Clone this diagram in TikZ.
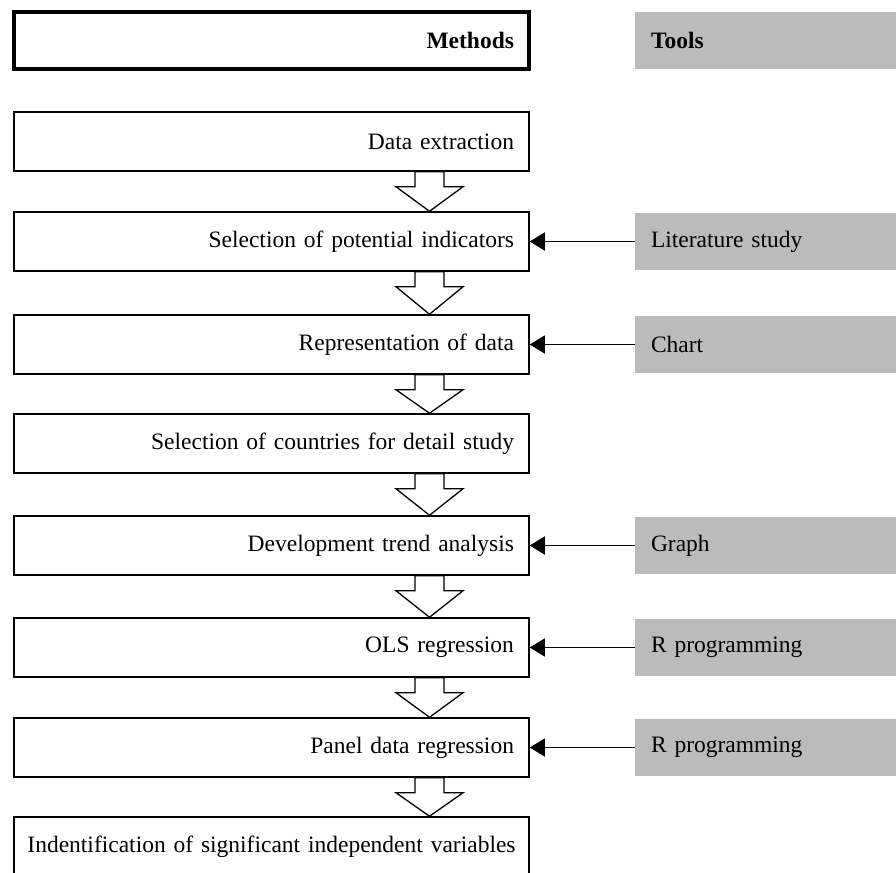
\documentclass[tikz,border=0pt]{standalone}
\usepackage{fontspec}
\setmainfont{Liberation Serif}
\usetikzlibrary{arrows.meta,calc}
\definecolor{toolgray}{RGB}{187,187,187}
\newcommand{\blockarr}[2]{%
  \draw[blk] let \p1=(#1.south), \p2=(#2.north) in
    (\x1+143.5pt,\y1) -- (\x1+172.5pt,\y1) -- (\x1+172.5pt,\y1-15pt) --
    (\x1+191.5pt,\y1-15pt) -- (\x1+158pt,\y2) -- (\x1+124.5pt,\y1-15pt) --
    (\x1+143.5pt,\y1-15pt) -- cycle;}
\begin{document}
\begin{tikzpicture}[x=1pt,y=-1pt,
  txt/.style={font=\fontsize{23.5}{28}\selectfont},
  mbox/.style={txt, draw, line width=1.5pt, minimum width=515pt, minimum height=59pt,
    text width=485pt, align=right, inner xsep=15pt, inner ysep=0pt},
  tbox/.style={txt, fill=toolgray, minimum width=261pt, minimum height=57pt,
    text width=229pt, align=left, inner xsep=16pt, inner ysep=0pt},
  blk/.style={draw, line width=1.3pt, fill=white, line join=miter},
  link/.style={line width=1.3pt, -{Triangle[length=15pt,width=18pt]}}]
\clip (0,0) rectangle (896,872);
\fill[white] (0,0) rectangle (896,872);
% headers
\node[mbox, line width=3.5pt, minimum height=57pt, font=\fontsize{23.5}{28}\selectfont\bfseries] (mh) at (271.5,40.5) {Methods};
\node[tbox, font=\fontsize{23.5}{28}\selectfont\bfseries] (th) at (765.5,40.5) {Tools};
% method boxes
\node[mbox] (m1) at (271.5,141.5) {Data extraction};
\node[mbox] (m2) at (271.5,241.5) {Selection of potential indicators};
\node[mbox] (m3) at (271.5,344.5) {Representation of data};
\node[mbox] (m4) at (271.5,443.5) {Selection of countries for detail study};
\node[mbox] (m5) at (271.5,545.5) {Development trend analysis};
\node[mbox] (m6) at (271.5,647.5) {OLS regression};
\node[mbox] (m7) at (271.5,747.5) {Panel data regression};
\node[mbox, text width=509pt, inner xsep=3pt, align=center] (m8) at (271.5,846.5) {Indentification of significant independent variables};
% tool boxes
\node[tbox] (t2) at (765.5,241.5) {Literature study};
\node[tbox] (t3) at (765.5,344.5) {Chart};
\node[tbox] (t5) at (765.5,545.5) {Graph};
\node[tbox] (t6) at (765.5,647.5) {R programming};
\node[tbox] (t7) at (765.5,747.5) {R programming};
% block arrows
\blockarr{m1}{m2}
\blockarr{m2}{m3}
\blockarr{m3}{m4}
\blockarr{m4}{m5}
\blockarr{m5}{m6}
\blockarr{m6}{m7}
\blockarr{m7}{m8}
% links
\draw[link] (t2.west) -- (m2.east);
\draw[link] (t3.west) -- (m3.east);
\draw[link] (t5.west) -- (m5.east);
\draw[link] (t6.west) -- (m6.east);
\draw[link] (t7.west) -- (m7.east);
\end{tikzpicture}
\end{document}
